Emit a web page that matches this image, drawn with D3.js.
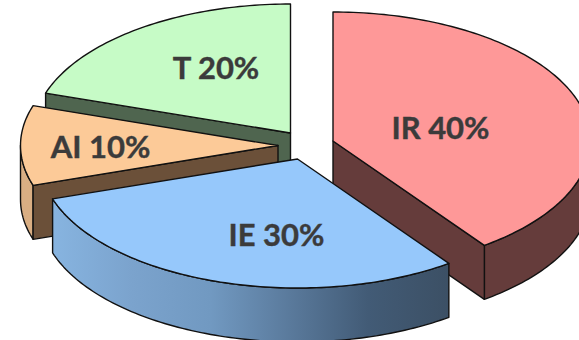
<!DOCTYPE html>
<html>
<head>
<meta charset="utf-8">
<style>
html,body{margin:0;padding:0;background:#fff;}
svg{display:block;}
text{font-family:Lato,"Open Sans",sans-serif;font-weight:700;font-size:31px;fill:#3b3b3b;stroke:#3b3b3b;stroke-width:0.4px;}
</style>
<script src="https://cdn.jsdelivr.net/npm/d3@7"></script>
</head>
<body>
<svg id="chart" width="579" height="340"></svg>
<script>
// Chart data
const categories = ["IR", "IE", "AI", "T"];
const shares = [40, 30, 10, 20];

// Slice palette: lid, radial wall, outer wall
const lidColors = ["#fe9898", "#96c8fb", "#fcca98", "#c6fbc6"];
const radialColors = ["#653c3b", "#3c5064", "#6b5039", "#4f654f"];
const rimColors = ["#653c3b", "url(#rimIE)", "#d9ae83", "#4f654f"];

// Exploded layout: apex of each slice and the label anchor
const apexX = [333, 297.5, 278, 290.5];
const apexY = [141, 159, 145.5, 133];
const labelX = [440.5, 276.5, 100.5, 216];
const labelY = [139, 246, 158, 79];

const radiusX = 257.5, radiusY = 129, depth = 54;
const drawOrder = [3, 0, 2, 1];

const svg = d3.select("#chart");

// Side gradient of the front slice, light on the left and dark on the right
const grad = svg.append("defs").append("linearGradient")
  .attr("id", "rimIE")
  .attr("gradientUnits", "userSpaceOnUse")
  .attr("x1", 53).attr("x2", 447).attr("y1", 0).attr("y2", 0);
[[0, "#87b4e0"], [0.2, "#7ba3cd"], [0.4, "#7199c1"], [0.6, "#5a7a9c"], [0.8, "#425b76"], [1, "#3c5065"]]
  .forEach(([o, c]) => grad.append("stop").attr("offset", o).attr("stop-color", c));

const slices = d3.pie().sort(null).value(d => d).startAngle(0).endAngle(2 * Math.PI)(shares);

const unitX = d3.scaleLinear().domain([-1, 1]).range([-radiusX, radiusX]);
const unitY = d3.scaleLinear().domain([-1, 1]).range([-radiusY, radiusY]);
const line = d3.line();

// Sampled rim of a slice between two angles, angle 0 pointing up, clockwise
function rim(i, a0, a1, drop) {
  const n = Math.max(2, Math.ceil((a1 - a0) / 0.02));
  return d3.range(n + 1).map(k => {
    const a = a0 + (a1 - a0) * k / n;
    return [apexX[i] + unitX(Math.sin(a)), apexY[i] + unitY(-Math.cos(a)) + drop];
  });
}

function radialWall(i, a) {
  const p = rim(i, a, a, 0)[0];
  return [[apexX[i], apexY[i]], p, [p[0], p[1] + depth], [apexX[i], apexY[i] + depth]];
}

const pen = sel => sel.attr("stroke", "#111").attr("stroke-width", 1.4).attr("stroke-linejoin", "round");

drawOrder.forEach(i => {
  const s = slices[i];
  const g = svg.append("g").attr("class", "slice-" + categories[i]);

  // Outer wall: only the part of the rim that faces the viewer
  const lo = Math.max(s.startAngle, Math.PI / 2);
  const hi = Math.min(s.endAngle, 3 * Math.PI / 2);
  if (hi > lo) {
    const pts = rim(i, lo, hi, 0).concat(rim(i, lo, hi, depth).reverse());
    g.append("path").attr("d", line(pts) + "Z").attr("fill", rimColors[i]).call(pen);
  }

  // Radial walls that face the viewer
  [[s.startAngle, s.startAngle > Math.PI && s.startAngle < 2 * Math.PI],
   [s.endAngle, s.endAngle > 0 && s.endAngle < Math.PI]].forEach(([a, visible]) => {
    if (visible) {
      g.append("path").attr("d", line(radialWall(i, a)) + "Z").attr("fill", radialColors[i]).call(pen);
    }
  });

  // Lid of the slice
  const lid = [[apexX[i], apexY[i]]].concat(rim(i, s.startAngle, s.endAngle, 0));
  g.append("path").attr("d", line(lid) + "Z").attr("fill", lidColors[i]).call(pen);
});

// Labels sit above every slice
svg.append("g").selectAll("text").data(slices).join("text")
  .attr("x", (d, i) => labelX[i])
  .attr("y", (d, i) => labelY[i])
  .attr("text-anchor", "middle")
  .text((d, i) => categories[i] + " " + shares[i] + "%");
</script>
</body>
</html>
